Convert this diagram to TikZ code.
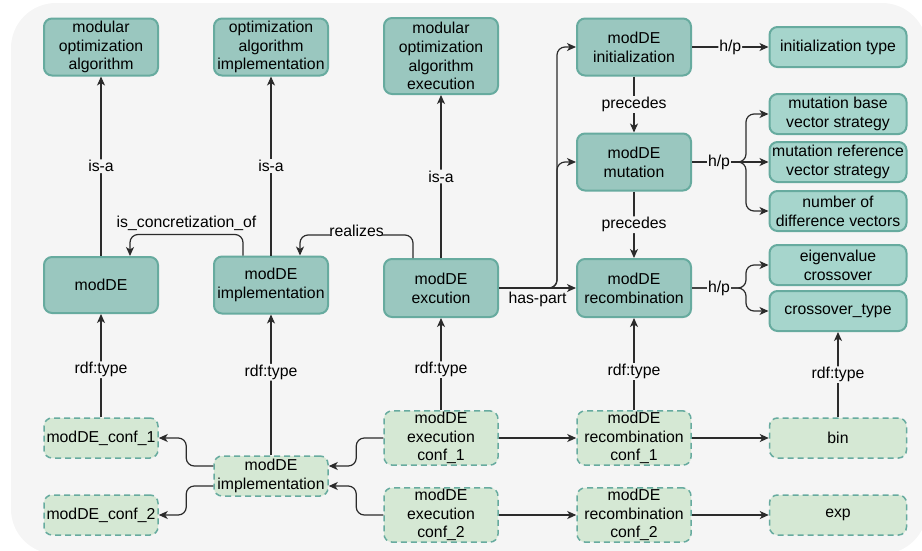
\documentclass[tikz,border=0pt]{standalone}
\usepackage{fontspec}
\setmainfont{Liberation Sans}
\usetikzlibrary{arrows.meta}
\definecolor{bgGray}{HTML}{F5F5F5}
\definecolor{clsFill}{HTML}{9AC7BF}
\definecolor{clsLine}{HTML}{67AB9F}
\definecolor{propFill}{HTML}{A6D5CC}
\definecolor{instFill}{HTML}{D5E8D4}
\definecolor{edgeGray}{HTML}{2B2B2B}
\begin{document}
\begin{tikzpicture}[x=1pt,y=-1pt,node distance=170pt,
  font=\fontsize{15.8}{18.8}\selectfont,
  cls/.style={draw=clsLine,fill=clsFill,line width=2pt,rounded corners=8pt,
    minimum width=114pt,minimum height=57pt,align=center,inner sep=1pt},
  prop/.style={cls,fill=propFill,minimum width=137pt,minimum height=40pt},
  inst/.style={cls,fill=instFill,line width=1.5pt,dash pattern=on 6pt off 4pt,minimum height=40pt},
  link/.style={draw=edgeGray,line width=1.2pt,rounded corners=8pt,
    -{Stealth[length=9pt,width=8pt,inset=2.5pt]}},
  lbl/.style={fill=bgGray,inner sep=1pt}]
  \useasboundingbox (0,0) rectangle (922,550);
  \fill[bgGray,rounded corners=45pt] (11,3) rectangle (927,554);
  % classes
  \node[cls,minimum height=56pt] (mde) at (101,285) {modDE};
  \node[cls] (impl) [right of=mde] {modDE\\implementation};
  \node[cls,minimum height=58pt] (exec) at (441,288) {modDE\\excution};
  \node[cls] (alg) [above of=mde, node distance=238pt] {modular\\optimization\\algorithm};
  \node[cls] (algimpl) [above of=impl, node distance=238pt] {optimization\\algorithm\\implementation};
  \node[cls,minimum height=76pt] (algexec) at (441,56) {modular\\optimization\\algorithm\\execution};
  \node[cls] (init) at (634,47) {modDE\\initialization};
  \node[cls] (mut) [below of=init, node distance=115pt] {modDE\\mutation};
  \node[cls,minimum height=58pt] (rec) [below of=mut, node distance=126pt] {modDE\\recombination};
  % properties
  \node[prop] (inittype) [right of=init, node distance=204pt] {initialization type};
  \node[prop] (mbase) at (838,114) {mutation base\\vector strategy};
  \node[prop] (mref) [below of=mbase, node distance=48pt] {mutation reference\\vector strategy};
  \node[prop] (ndiff) [below of=mref, node distance=49pt] {number of\\difference vectors};
  \node[prop] (eigen) [below of=ndiff, node distance=54pt] {eigenvalue\\crossover};
  \node[prop] (ctype) [below of=eigen, node distance=46pt] {crossover\_type};
  % instances
  \node[inst] (conf1) at (101,438) {modDE\_conf\_1};
  \node[inst] (conf2) [below of=conf1, node distance=77pt] {modDE\_conf\_2};
  \node[inst] (implinst) at (271,476) {modDE\\implementation};
  \node[inst,minimum height=54pt] (exec1) at (441,438) {modDE\\execution\\conf\_1};
  \node[inst,minimum height=52pt] (exec2) [below of=exec1, node distance=77pt] {modDE\\execution\\conf\_2};
  \node[inst,minimum height=54pt] (rec1) [right of=exec1, node distance=193pt] {modDE\\recombination\\conf\_1};
  \node[inst,minimum height=53pt] (rec2) [below of=rec1, node distance=77pt] {modDE\\recombination\\conf\_2};
  \node[prop,inst,minimum width=137pt] (bin) [right of=rec1, node distance=204pt] {bin};
  \node[prop,inst,minimum width=137pt] (exp) [below of=bin, node distance=77pt] {exp};
  % is-a
  \draw[link] (mde) -- node[lbl]{is-a} (alg);
  \draw[link] (impl) -- node[lbl]{is-a} (algimpl);
  \draw[link] (exec) -- node[lbl]{is-a} (algexec);
  \draw[link] ([xshift=-28pt]impl.north) -- ++(0,-21) -| node[pos=0.25,above]{is\_concretization\_of} ([xshift=29pt]mde.north);
  \draw[link] ([xshift=-28pt]exec.north) -- ++(0,-23) -| node[pos=0.25,lbl,above=-3pt]{realizes} ([xshift=29pt]impl.north);
  % has-part
  \draw[link] (exec.east) -- ++(58,0) |- (init.west);
  \draw[link] (exec.east) -- ++(58,0) |- (mut.west);
  \draw[link] (exec.east) -- node[below]{has-part} (rec.west);
  \draw[link] (init) -- node[lbl]{precedes} (mut);
  \draw[link] (mut) -- node[lbl]{precedes} (rec);
  % h/p
  \draw[link] (init) -- node[lbl]{h/p} (inittype);
  \draw[link] (mut.east) -- (mref.west);
  \draw[link] (mut.east) -- ++(54,0) |- (ndiff.west);
  \draw[link] (mut.east) -- node[lbl]{h/p} ++(54,0) |- (mbase.west);
  \draw[link] (rec.east) -- ++(54,0) |- (ctype.west);
  \draw[link] (rec.east) -- node[lbl]{h/p} ++(54,0) |- (eigen.west);
  % rdf:type
  \draw[link] (conf1) -- node[lbl,pos=0.46]{rdf:type} (mde);
  \draw[link] (implinst) -- node[lbl,pos=0.59]{rdf:type} (impl);
  \draw[link] (exec1) -- node[lbl,pos=0.44]{rdf:type} (exec);
  \draw[link] (rec1) -- node[lbl,pos=0.42]{rdf:type} (rec);
  \draw[link] (bin) -- node[lbl]{rdf:type} (ctype);
  % instance links
  \draw[link] ([yshift=10pt]implinst.west) -- ++(-27,0) |- (conf1.east);
  \draw[link] ([yshift=-10pt]implinst.west) -- ++(-27,0) |- (conf2.east);
  \draw[link] (exec1.west) -- ++(-27,0) |- ([yshift=10pt]implinst.east);
  \draw[link] (exec2.west) -- ++(-27,0) |- ([yshift=-10pt]implinst.east);
  \draw[link] (exec1) -- (rec1);
  \draw[link] (exec2) -- (rec2);
  \draw[link] (rec1) -- (bin);
  \draw[link] (rec2) -- (exp);
\end{tikzpicture}
\end{document}
